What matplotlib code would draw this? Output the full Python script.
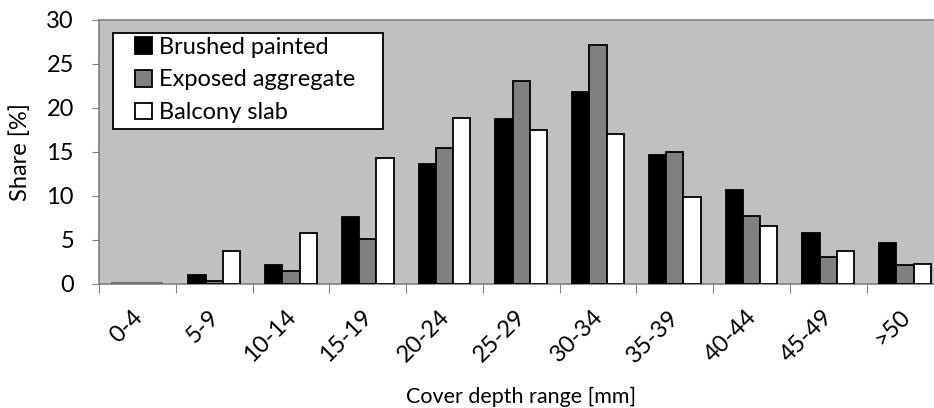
import numpy as np
from matplotlib import pyplot as plt
from matplotlib import transforms
from matplotlib.patches import Rectangle, Patch

plt.rcParams['font.family'] = ['Lato', 'DejaVu Sans']

ranges = ["0-4", "5-9", "10-14", "15-19", "20-24", "25-29",
          "30-34", "35-39", "40-44", "45-49", ">50"]
brushed = [0.0, 1.0, 2.1, 7.6, 13.6, 18.8, 21.8, 14.6, 10.7, 5.8, 4.6]
exposed = [0.0, 0.3, 1.5, 5.1, 15.5, 23.1, 27.2, 15.0, 7.7, 3.1, 2.1]
balcony = [0.0, 3.7, 5.8, 14.3, 18.9, 17.5, 17.1, 9.9, 6.6, 3.8, 2.3]

fs = 17

fig = plt.figure(figsize=(9.34, 4.08), dpi=100)
ax = fig.add_axes([0.106, 0.304, 0.904, 0.647])
ax.set_facecolor("#c0c0c0")

x = np.arange(len(ranges))
w = 0.225
series = [(brushed, "#000000", "Brushed painted"),
          (exposed, "#808080", "Exposed aggregate"),
          (balcony, "#ffffff", "Balcony slab")]
handles = []
for i, (vals, col, lab) in enumerate(series):
    # empty classes only show a grey stub on the baseline
    edges = ["#727272" if v == 0 else "black" for v in vals]
    lws = [3.0 if v == 0 else 1.3 for v in vals]
    ax.bar(x + (i - 1) * w, vals, w, color=col, edgecolor=edges,
           linewidth=lws, zorder=3)
    handles.append(Patch(facecolor=col, edgecolor="black", linewidth=1.3,
                         label=lab))

ax.set_xlim(-0.5, len(ranges) - 0.5)
ax.set_ylim(0, 30)
ax.set_yticks(range(0, 31, 5))
ax.tick_params(axis="y", labelsize=fs, length=5, color="#808080", pad=13)

# category ticks sit between groups, labels at group centres
ax.set_xticks(np.arange(len(ranges) + 1) - 0.5)
ax.set_xticklabels([])
ax.set_xticks(x, minor=True)
ax.set_xticklabels(ranges, minor=True, rotation=45, ha="right",
                   rotation_mode="anchor", fontsize=fs)
ax.tick_params(axis="x", which="major", length=6.5, color="#808080")
ax.tick_params(axis="x", which="minor", length=0, pad=16)
shift = transforms.ScaledTranslation(-0.06, 0, fig.dpi_scale_trans)
for t in ax.get_xticklabels(minor=True):
    t.set_transform(t.get_transform() + shift)

for s in ax.spines.values():
    s.set_color("#808080")
    s.set_linewidth(1.2)

ax.set_xlabel("Cover depth range [mm]", fontsize=15.5, labelpad=15)
ax.set_ylabel("Share [%]", fontsize=fs, labelpad=11)

leg = ax.legend(handles=handles, loc="center left",
                bbox_to_anchor=(0.0427, 0.773), borderaxespad=0,
                borderpad=0, fontsize=fs, handlelength=0.72,
                handleheight=0.72, handletextpad=0.3, labelspacing=0.5,
                frameon=False)
leg.set_zorder(6)
ax.add_patch(Rectangle((0.0166, 0.587), 0.3199, 0.364, transform=ax.transAxes,
                       facecolor="white", edgecolor="black", linewidth=1.3,
                       zorder=5))

fig.savefig("out.png", dpi=100)
